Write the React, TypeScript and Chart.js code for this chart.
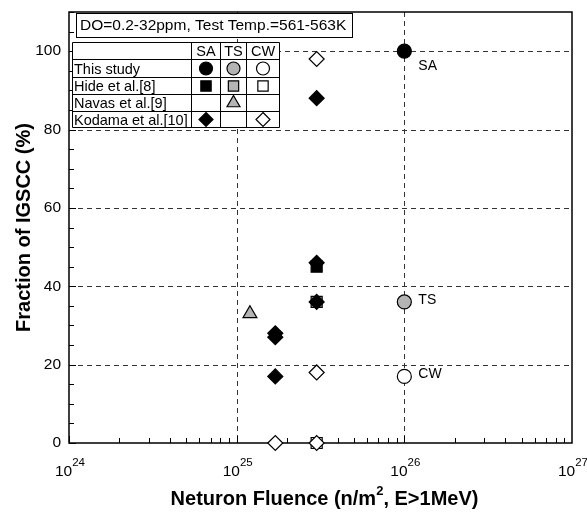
import React, { useEffect, useRef } from 'react';
import { Chart, registerables } from 'chart.js';

Chart.register(...registerables);

// ---------- data ----------
const thisStudyX = [1e26];
const thisStudySA = [100];
const thisStudyTS = [36];
const thisStudyCW = [17];

const hideSAX = [3e25];
const hideSAY = [45];
const hideTSX = [3e25];
const hideTSY = [36];
const hideCWX = [3e25];
const hideCWY = [0];

const navasTSX = [1.2e25];
const navasTSY = [33];

const kodamaSAX = [1.7e25, 1.7e25, 1.7e25, 3e25, 3e25, 3e25];
const kodamaSAY = [28, 27, 17, 46, 36, 88];
const kodamaCWX = [1.7e25, 3e25, 3e25, 3e25];
const kodamaCWY = [0, 0, 18, 98];

const legendRows = ['This study', 'Hide et al.[8]', 'Navas et al.[9]', 'Kodama et al.[10]'];
const legendCols = ['SA', 'TS', 'CW'];
const conditionText = 'DO=0.2-32ppm, Test Temp.=561-563K';

const annotationLabels = ['SA', 'TS', 'CW'];
const annotationValues = [100, 36, 17];
const annotationX = 1e26;

const xTickExponents = [24, 25, 26, 27];
const xGridExponents = [25, 26];
const yTickValues = [0, 20, 40, 60, 80, 100];
const yGridValues = [20, 40, 60, 80, 100];
const yMin = 0;
const yMax = 110;
const xMin = 1e24;
const xMax = 1e27;

const xTitleMain = 'Neturon Fluence (n/m';
const xTitleSup = '2';
const xTitleEnd = ', E>1MeV)';
const yTitle = 'Fraction of IGSCC (%)';

// ---------- styles ----------
const FONT = '"Liberation Sans", Arial, Helvetica, sans-serif';
const BLACK = '#000000';
const GRAY = '#b4b4b4';
const WHITE = '#ffffff';

const zip = (xs: number[], ys: number[]) => xs.map((x, i) => ({ x, y: ys[i] }));

type Series = {
  label: string;
  data: { x: number; y: number }[];
  shape: string;
  fill: string;
  radius: number;
  row: number;
  col: number;
  order: number;
};

const series: Series[] = [
  { label: 'This study SA', data: zip(thisStudyX, thisStudySA), shape: 'circle', fill: BLACK, radius: 7, row: 0, col: 0, order: 3 },
  { label: 'This study TS', data: zip(thisStudyX, thisStudyTS), shape: 'circle', fill: GRAY, radius: 7, row: 0, col: 1, order: 3 },
  { label: 'This study CW', data: zip(thisStudyX, thisStudyCW), shape: 'circle', fill: WHITE, radius: 7, row: 0, col: 2, order: 3 },
  { label: 'Hide SA', data: zip(hideSAX, hideSAY), shape: 'rect', fill: BLACK, radius: 7.8, row: 1, col: 0, order: 2 },
  { label: 'Hide TS', data: zip(hideTSX, hideTSY), shape: 'rect', fill: GRAY, radius: 7.8, row: 1, col: 1, order: 2 },
  { label: 'Hide CW', data: zip(hideCWX, hideCWY), shape: 'rect', fill: WHITE, radius: 7.8, row: 1, col: 2, order: 2 },
  { label: 'Navas TS', data: zip(navasTSX, navasTSY), shape: 'triangle', fill: GRAY, radius: 8, row: 2, col: 1, order: 1 },
  { label: 'Kodama SA', data: zip(kodamaSAX, kodamaSAY), shape: 'rectRot', fill: BLACK, radius: 7.5, row: 3, col: 0, order: 0 },
  { label: 'Kodama CW', data: zip(kodamaCWX, kodamaCWY), shape: 'rectRot', fill: WHITE, radius: 7.5, row: 3, col: 2, order: 0 },
];

function drawMarker(ctx: CanvasRenderingContext2D, shape: string, x: number, y: number, r: number, fill: string) {
  ctx.beginPath();
  if (shape === 'circle') {
    ctx.arc(x, y, r, 0, Math.PI * 2);
  } else if (shape === 'rect') {
    const s = r * Math.SQRT1_2;
    ctx.rect(x - s, y - s, 2 * s, 2 * s);
  } else if (shape === 'rectRot') {
    ctx.moveTo(x, y - r);
    ctx.lineTo(x + r, y);
    ctx.lineTo(x, y + r);
    ctx.lineTo(x - r, y);
    ctx.closePath();
  } else if (shape === 'triangle') {
    const a = (Math.PI * 2) / 3;
    ctx.moveTo(x, y - r);
    ctx.lineTo(x + Math.sin(a) * r, y - Math.cos(a) * r);
    ctx.lineTo(x + Math.sin(2 * a) * r, y - Math.cos(2 * a) * r);
    ctx.closePath();
  }
  ctx.fillStyle = fill;
  ctx.fill();
  ctx.lineWidth = 1.2;
  ctx.strokeStyle = BLACK;
  ctx.stroke();
}

const decorPlugin = {
  id: 'decor',
  beforeDatasetsDraw(chart: any) {
    const { ctx, chartArea: ca, scales } = chart;
    const xs = scales.x;
    const ys = scales.y;
    ctx.save();

    // dashed grid
    ctx.strokeStyle = '#333333';
    ctx.lineWidth = 1;
    ctx.setLineDash([5, 4]);
    xGridExponents.forEach((e) => {
      const px = Math.round(xs.getPixelForValue(Math.pow(10, e))) + 0.5;
      ctx.beginPath();
      ctx.moveTo(px, ca.top);
      ctx.lineTo(px, ca.bottom);
      ctx.stroke();
    });
    yGridValues.forEach((v) => {
      const py = Math.round(ys.getPixelForValue(v)) + 0.5;
      ctx.beginPath();
      ctx.moveTo(ca.left, py);
      ctx.lineTo(ca.right, py);
      ctx.stroke();
    });
    ctx.setLineDash([]);

    // inward ticks
    ctx.strokeStyle = BLACK;
    ctx.lineWidth = 1;
    for (let e = xTickExponents[0]; e < xTickExponents[xTickExponents.length - 1]; e++) {
      for (let m = 1; m < 10; m++) {
        const px = Math.round(xs.getPixelForValue(m * Math.pow(10, e))) + 0.5;
        const len = m === 1 ? 7 : 5;
        ctx.beginPath();
        ctx.moveTo(px, ca.bottom);
        ctx.lineTo(px, ca.bottom - len);
        ctx.stroke();
      }
    }
    for (let v = yMin; v <= yMax; v += 5) {
      const py = Math.round(ys.getPixelForValue(v)) + 0.5;
      const len = v % 20 === 0 ? 7 : 5;
      ctx.beginPath();
      ctx.moveTo(ca.left, py);
      ctx.lineTo(ca.left + len, py);
      ctx.stroke();
    }

    // frame
    ctx.lineWidth = 1.5;
    ctx.strokeRect(ca.left, ca.top, ca.right - ca.left, ca.bottom - ca.top);

    // y tick labels
    ctx.fillStyle = BLACK;
    ctx.font = `15.5px ${FONT}`;
    ctx.textAlign = 'right';
    ctx.textBaseline = 'middle';
    yTickValues.forEach((v) => {
      ctx.fillText(String(v), ca.left - 8, ys.getPixelForValue(v));
    });

    // x tick labels 10^n
    xTickExponents.forEach((e) => {
      const px = xs.getPixelForValue(Math.pow(10, e));
      ctx.font = `15.5px ${FONT}`;
      const w = ctx.measureText('10').width;
      ctx.font = `11.5px ${FONT}`;
      const ws = ctx.measureText(String(e)).width;
      const x0 = px - (w + ws) / 2 + 1;
      ctx.textAlign = 'left';
      ctx.textBaseline = 'alphabetic';
      ctx.font = `15.5px ${FONT}`;
      ctx.fillText('10', x0, 476);
      ctx.font = `11.5px ${FONT}`;
      ctx.fillText(String(e), x0 + w, 466);
    });

    // x title
    const big = `bold 20px ${FONT}`;
    const small = `bold 13px ${FONT}`;
    ctx.font = big;
    const w1 = ctx.measureText(xTitleMain).width;
    const w3 = ctx.measureText(xTitleEnd).width;
    ctx.font = small;
    const w2 = ctx.measureText(xTitleSup).width;
    const total = w1 + w2 + w3;
    const cx = (ca.left + ca.right) / 2 + 4;
    let sx = cx - total / 2;
    ctx.textAlign = 'left';
    ctx.font = big;
    ctx.fillText(xTitleMain, sx, 505);
    sx += w1;
    ctx.font = small;
    ctx.fillText(xTitleSup, sx, 495);
    sx += w2;
    ctx.font = big;
    ctx.fillText(xTitleEnd, sx, 505);

    // y title
    ctx.save();
    ctx.translate(24, (ca.top + ca.bottom) / 2);
    ctx.rotate(-Math.PI / 2);
    ctx.textAlign = 'center';
    ctx.textBaseline = 'middle';
    ctx.font = big;
    ctx.fillText(yTitle, 0, 0);
    ctx.restore();

    ctx.restore();
  },
  afterDraw(chart: any) {
    const { ctx, scales } = chart;
    const xs = scales.x;
    const ys = scales.y;
    ctx.save();

    // annotations SA/TS/CW
    ctx.fillStyle = BLACK;
    ctx.font = `14px ${FONT}`;
    ctx.textAlign = 'left';
    ctx.textBaseline = 'middle';
    const ax = xs.getPixelForValue(annotationX);
    annotationLabels.forEach((t, i) => {
      const py = ys.getPixelForValue(annotationValues[i]);
      const dy = i === 0 ? 15 : -2;
      ctx.fillText(t, ax + 14, py + dy);
    });

    // condition box
    ctx.fillStyle = WHITE;
    ctx.fillRect(76.5, 13.5, 276, 24);
    ctx.strokeStyle = BLACK;
    ctx.lineWidth = 1;
    ctx.strokeRect(76.5, 13.5, 276, 24);
    ctx.fillStyle = BLACK;
    ctx.font = `15.5px ${FONT}`;
    ctx.textBaseline = 'middle';
    ctx.textAlign = 'left';
    ctx.fillText(conditionText, 80, 26);

    // table
    const colX = [72.5, 191.5, 220.5, 246.5, 279.5];
    const rowY = [42.5, 59.5, 77.5, 94.5, 111.5, 127.5];
    ctx.fillStyle = WHITE;
    ctx.fillRect(colX[0], rowY[0], colX[4] - colX[0], rowY[5] - rowY[0]);
    ctx.strokeStyle = BLACK;
    ctx.lineWidth = 1;
    ctx.beginPath();
    rowY.forEach((y) => {
      ctx.moveTo(colX[0], y);
      ctx.lineTo(colX[4], y);
    });
    colX.forEach((x) => {
      ctx.moveTo(x, rowY[0]);
      ctx.lineTo(x, rowY[5]);
    });
    ctx.stroke();

    ctx.fillStyle = BLACK;
    ctx.font = `14.5px ${FONT}`;
    ctx.textAlign = 'center';
    legendCols.forEach((c, j) => {
      ctx.fillText(c, (colX[j + 1] + colX[j + 2]) / 2, (rowY[0] + rowY[1]) / 2 + 1);
    });
    ctx.textAlign = 'left';
    legendRows.forEach((r, i) => {
      ctx.fillStyle = BLACK;
      ctx.fillText(r, 74, (rowY[i + 1] + rowY[i + 2]) / 2 + 1);
    });
    series.forEach((s) => {
      const x = (colX[s.col + 1] + colX[s.col + 2]) / 2;
      const y = (rowY[s.row + 1] + rowY[s.row + 2]) / 2;
      drawMarker(ctx, s.shape, x, y, s.radius - 0.5, s.fill);
    });

    ctx.restore();
  },
};

export default function App() {
  const ref = useRef<HTMLCanvasElement>(null);
  useEffect(() => {
    const canvas = ref.current;
    if (!canvas) return;
    const chart = new Chart(canvas, {
      type: 'scatter',
      data: {
        datasets: series.map((s) => ({
          label: s.label,
          data: s.data,
          order: s.order,
          pointStyle: s.shape as any,
          pointRadius: s.radius,
          pointHoverRadius: s.radius,
          pointBackgroundColor: s.fill,
          pointBorderColor: BLACK,
          pointBorderWidth: 1.2,
          showLine: false,
          clip: false as any,
        })),
      },
      options: {
        responsive: false,
        animation: false,
        devicePixelRatio: 1,
        layout: { padding: { top: 12, right: 15, left: 0, bottom: 0 } },
        plugins: { legend: { display: false }, tooltip: { enabled: false } },
        events: [],
        scales: {
          x: {
            type: 'logarithmic',
            min: xMin,
            max: xMax,
            ticks: { display: false },
            grid: { display: false },
            border: { display: false },
            afterFit: (s: any) => {
              s.height = 72;
            },
          },
          y: {
            type: 'linear',
            min: yMin,
            max: yMax,
            ticks: { display: false },
            grid: { display: false },
            border: { display: false },
            afterFit: (s: any) => {
              s.width = 69;
            },
          },
        },
      } as any,
      plugins: [decorPlugin],
    });
    return () => chart.destroy();
  }, []);
  return (
    <div style={{ position: 'fixed', left: 0, top: 0, width: 587, height: 515, background: '#fff' }}>
      <canvas ref={ref} width={587} height={515} style={{ display: 'block', width: 587, height: 515 }} />
    </div>
  );
}
